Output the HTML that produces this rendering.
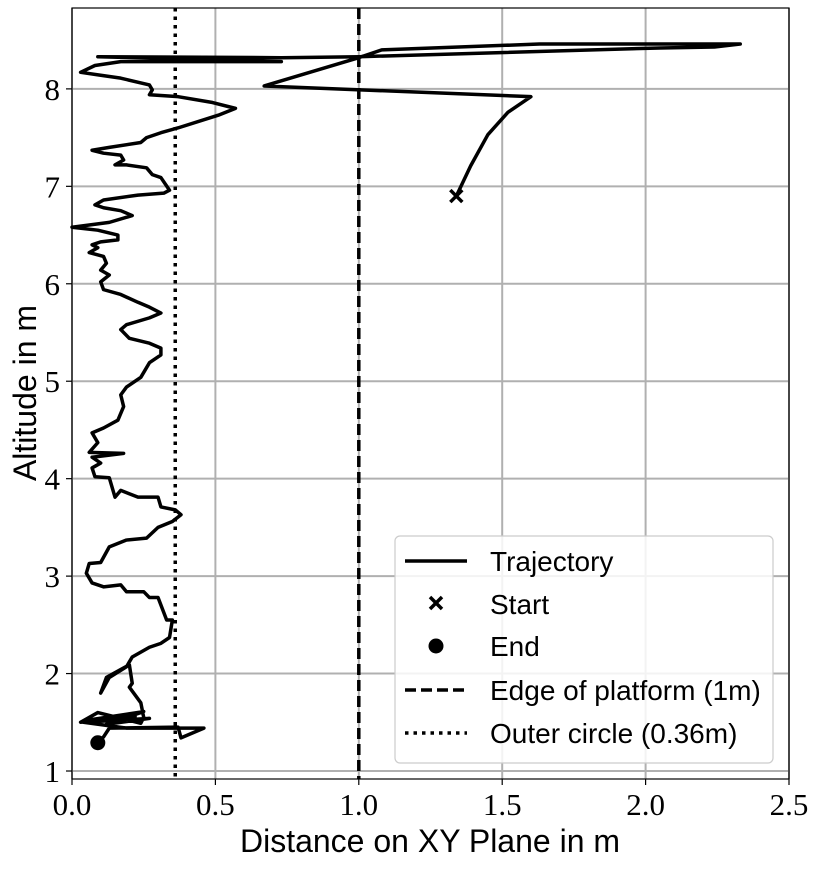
<!DOCTYPE html>
<html><head><meta charset="utf-8"><style>
body{margin:0;background:#fff}
svg text{font-family:"Liberation Sans",sans-serif}
.tk{font-family:"Liberation Serif",serif;font-size:31px}
</style></head><body>
<svg id="c" width="819" height="866"></svg>
<script>
const xs=[1.34,1.39,1.45,1.52,1.60,0.67,1.00,1.08,1.63,2.33,2.24,2.05,1.00,0.73,0.09,0.73,0.17,0.08,0.03,0.10,0.17,0.27,0.28,0.27,0.37,0.49,0.57,0.51,0.37,0.31,0.26,0.24,0.13,0.07,0.11,0.17,0.18,0.15,0.19,0.26,0.28,0.31,0.34,0.32,0.23,0.11,0.08,0.11,0.17,0.21,0.13,0.00,0.09,0.16,0.16,0.10,0.07,0.09,0.06,0.11,0.12,0.10,0.13,0.10,0.11,0.17,0.23,0.27,0.31,0.27,0.19,0.17,0.20,0.27,0.31,0.31,0.27,0.24,0.19,0.17,0.18,0.16,0.11,0.07,0.09,0.06,0.18,0.07,0.10,0.07,0.08,0.13,0.15,0.17,0.23,0.30,0.31,0.36,0.38,0.35,0.30,0.26,0.19,0.13,0.10,0.06,0.05,0.07,0.11,0.17,0.19,0.25,0.27,0.30,0.33,0.35,0.34,0.31,0.27,0.21,0.19,0.13,0.10,0.12,0.20,0.21,0.20,0.24,0.25,0.24,0.09,0.03,0.22,0.05,0.25,0.12,0.27,0.04,0.19,0.46,0.38,0.37,0.13,0.11,0.09];
const ys=[6.90,7.21,7.53,7.76,7.92,8.03,8.32,8.40,8.46,8.46,8.43,8.42,8.33,8.32,8.33,8.28,8.28,8.24,8.17,8.14,8.11,8.04,7.99,7.94,7.92,7.86,7.80,7.73,7.60,7.55,7.50,7.45,7.40,7.37,7.34,7.32,7.27,7.22,7.22,7.19,7.12,7.09,6.96,6.93,6.91,6.86,6.81,6.78,6.75,6.70,6.63,6.58,6.55,6.50,6.45,6.43,6.40,6.37,6.32,6.28,6.21,6.14,6.09,6.02,5.94,5.89,5.81,5.76,5.70,5.65,5.58,5.53,5.44,5.39,5.34,5.27,5.19,5.04,4.94,4.86,4.74,4.60,4.52,4.47,4.37,4.27,4.26,4.22,4.16,4.11,4.02,4.01,3.81,3.88,3.81,3.81,3.71,3.68,3.63,3.56,3.50,3.39,3.37,3.30,3.14,3.13,3.03,2.93,2.89,2.91,2.84,2.84,2.78,2.78,2.55,2.55,2.37,2.31,2.27,2.17,2.07,1.96,1.80,1.96,2.09,1.90,1.86,1.70,1.55,1.49,1.60,1.50,1.56,1.52,1.61,1.48,1.54,1.50,1.44,1.44,1.34,1.45,1.44,1.35,1.29];
const xTicks=[0,0.5,1,1.5,2,2.5], xTickLabels=["0.0","0.5","1.0","1.5","2.0","2.5"];
const yTicks=[1,2,3,4,5,6,7,8], yTickLabels=["1","2","3","4","5","6","7","8"];
const edge=[1.0], outer=[0.36];
const X0=72,X1=789,Y0=8,Y1=779,xmin=0,xmax=2.5,ymin=0.918,ymax=8.83;
const sx=v=>X0+(v-xmin)/(xmax-xmin)*(X1-X0), sy=v=>Y1-(v-ymin)/(ymax-ymin)*(Y1-Y0);
const svg=document.getElementById('c'),NS='http://www.w3.org/2000/svg';
function mk(t,a,p){const e=document.createElementNS(NS,t);for(const k in a)e.setAttribute(k,a[k]);(p||svg).appendChild(e);return e;}
xTicks.forEach((t,i)=>{const x=sx(t);
 const g=mk('line',{x1:x,x2:x,y1:Y0,y2:Y1,stroke:'#b0b0b0','stroke-width':2});
 
 
 mk('line',{x1:x,x2:x,y1:Y1,y2:Y1+6,stroke:'#000','stroke-width':1.2});
 const tx=mk('text',{x:x,y:Y1+36,'text-anchor':'middle',class:'tk'});tx.textContent=xTickLabels[i];
 
 });
yTicks.forEach((t,i)=>{const y=sy(t);
 const g=mk('line',{x1:X0,x2:X1,y1:y,y2:y,stroke:'#b0b0b0','stroke-width':2});
 
 
 mk('line',{x1:X0-6,x2:X0,y1:y,y2:y,stroke:'#000','stroke-width':1.2});
 const tx=mk('text',{x:X0-12,y:y+11,'text-anchor':'end',class:'tk'});tx.textContent=yTickLabels[i];
 
 });
edge.forEach(v=>{const l=mk('line',{x1:sx(v),x2:sx(v),y1:Y0,y2:Y1,stroke:'#000','stroke-width':3.5,'stroke-dasharray':'11,5'});
 
 });
outer.forEach(v=>{const l=mk('line',{x1:sx(v),x2:sx(v),y1:Y0,y2:Y1,stroke:'#000','stroke-width':3.5,'stroke-dasharray':'3.5,5'});
 
 });
const tr=mk('polyline',{points:xs.map((v,i)=>sx(v)+','+sy(ys[i])).join(' '),fill:'none',stroke:'#000','stroke-width':3.5,'stroke-linejoin':'round'});


const sxp=sx(xs[0]),syp=sy(ys[0]);
const st=mk('path',{d:`M${sxp-6},${syp-6}L${sxp+6},${syp+6}M${sxp-6},${syp+6}L${sxp+6},${syp-6}`,stroke:'#000','stroke-width':3.5});


const n=xs.length-1;
const en=mk('circle',{cx:sx(xs[n]),cy:sy(ys[n]),r:7.5,fill:'#000'});


const fr=mk('rect',{x:X0,y:Y0,width:X1-X0,height:Y1-Y0,fill:'none',stroke:'#000','stroke-width':1.2});


</script>
<svg style="position:absolute;left:0;top:0" width="819" height="866">
<g>
<rect x="395" y="536" width="378" height="227" rx="5" fill="#fff" fill-opacity="0.85" stroke="#ccc" stroke-width="1.2"/>
<line x1="405" y1="561" x2="467" y2="561" stroke="#000" stroke-width="3.5"/>
<text x="490" y="571" font-size="28">Trajectory</text>
<path d="M430,597L442,609M430,609L442,597" stroke="#000" stroke-width="3.5"/>
<text x="490" y="614" font-size="28">Start</text>
<circle cx="436" cy="646" r="7.5" fill="#000"/>
<text x="490" y="656" font-size="28">End</text>
<line x1="405" y1="690" x2="467" y2="690" stroke="#000" stroke-width="3.5" stroke-dasharray="11,5"/>
<text x="490" y="700" font-size="28">Edge of platform (1m)</text>
<line x1="405" y1="733" x2="467" y2="733" stroke="#000" stroke-width="3.5" stroke-dasharray="3.5,5"/>
<text x="490" y="743" font-size="28">Outer circle (0.36m)</text>
</g>
<text x="430" y="852" font-size="32" text-anchor="middle">Distance on XY Plane in m</text>
<text transform="translate(36,393) rotate(-90)" font-size="32" text-anchor="middle">Altitude in m</text>
</svg>
</body></html>
